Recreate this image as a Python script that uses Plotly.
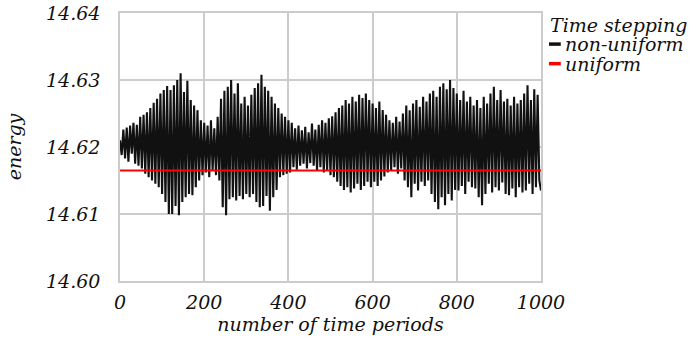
import plotly.graph_objects as go

# time periods (every 4 periods)
periods = list(range(0, 1001, 4))

# energy, non-uniform time stepping
energy_nonuniform = [
    14.6210, 14.6188, 14.6226, 14.6183, 14.6229, 14.6178, 14.6232, 14.6190, 14.6236, 14.6175,
    14.6233, 14.6172, 14.6245, 14.6168, 14.6248, 14.6160, 14.6252, 14.6155, 14.6258, 14.6150,
    14.6266, 14.6145, 14.6272, 14.6140, 14.6280, 14.6130, 14.6285, 14.6118, 14.6291, 14.6100,
    14.6285, 14.6100, 14.6292, 14.6112, 14.6300, 14.6098, 14.6310, 14.6118, 14.6282, 14.6125,
    14.6299, 14.6130, 14.6270, 14.6128, 14.6262, 14.6140, 14.6255, 14.6150, 14.6240, 14.6158,
    14.6236, 14.6162, 14.6232, 14.6155, 14.6240, 14.6165, 14.6228, 14.6158, 14.6245, 14.6150,
    14.6272, 14.6110, 14.6284, 14.6098, 14.6290, 14.6122, 14.6300, 14.6125, 14.6280, 14.6120,
    14.6295, 14.6127, 14.6265, 14.6122, 14.6275, 14.6130, 14.6262, 14.6125, 14.6278, 14.6130,
    14.6288, 14.6118, 14.6295, 14.6110, 14.6308, 14.6112, 14.6290, 14.6127, 14.6284, 14.6105,
    14.6275, 14.6125, 14.6265, 14.6136, 14.6258, 14.6155, 14.6250, 14.6158, 14.6245, 14.6160,
    14.6240, 14.6162, 14.6236, 14.6170, 14.6228, 14.6166, 14.6232, 14.6172, 14.6225, 14.6175,
    14.6230, 14.6168, 14.6222, 14.6176, 14.6235, 14.6172, 14.6226, 14.6165, 14.6233, 14.6170,
    14.6240, 14.6162, 14.6236, 14.6165, 14.6243, 14.6158, 14.6246, 14.6155, 14.6252, 14.6148,
    14.6258, 14.6142, 14.6262, 14.6136, 14.6270, 14.6140, 14.6265, 14.6132, 14.6275, 14.6138,
    14.6268, 14.6145, 14.6278, 14.6136, 14.6273, 14.6142, 14.6280, 14.6148, 14.6270, 14.6140,
    14.6265, 14.6148, 14.6258, 14.6142, 14.6268, 14.6150, 14.6255, 14.6156, 14.6248, 14.6162,
    14.6240, 14.6165, 14.6236, 14.6170, 14.6245, 14.6160, 14.6238, 14.6168, 14.6250, 14.6150,
    14.6262, 14.6140, 14.6255, 14.6125, 14.6265, 14.6145, 14.6270, 14.6135, 14.6260, 14.6148,
    14.6275, 14.6142, 14.6268, 14.6150, 14.6280, 14.6130, 14.6284, 14.6118, 14.6275, 14.6107,
    14.6290, 14.6125, 14.6295, 14.6113, 14.6286, 14.6130, 14.6300, 14.6120, 14.6288, 14.6136,
    14.6280, 14.6135, 14.6270, 14.6142, 14.6284, 14.6130, 14.6268, 14.6148, 14.6275, 14.6140,
    14.6262, 14.6138, 14.6270, 14.6125, 14.6258, 14.6113, 14.6275, 14.6130, 14.6265, 14.6145,
    14.6280, 14.6132, 14.6290, 14.6140, 14.6270, 14.6135, 14.6285, 14.6147, 14.6268, 14.6130,
    14.6272, 14.6128, 14.6262, 14.6138, 14.6275, 14.6125, 14.6265, 14.6140, 14.6270, 14.6132,
    14.6280, 14.6135, 14.6292, 14.6145, 14.6270, 14.6130, 14.6286, 14.6140, 14.6278, 14.6150,
    14.6135,
]

# energy, uniform time stepping (constant)
uniform_periods = [0, 1000]
energy_uniform = [14.6165, 14.6165]

x_ticks = [0, 200, 400, 600, 800, 1000]
y_ticks = [14.60, 14.61, 14.62, 14.63, 14.64]
y_tick_labels = ["14.60", "14.61", "14.62", "14.63", "14.64"]

series_names = ["non-uniform", "uniform"]
series_colors = ["#111111", "#ff0000"]
legend_title = "Time stepping"

FONT = "DejaVu Serif"
FS = 19
GRID = "#cccccc"

fig = go.Figure()
fig.add_trace(go.Scatter(x=periods, y=energy_nonuniform, mode="lines",
                         name=series_names[0],
                         line=dict(color=series_colors[0], width=2.1)))
fig.add_trace(go.Scatter(x=uniform_periods, y=energy_uniform, mode="lines",
                         name=series_names[1],
                         line=dict(color=series_colors[1], width=2)))

fig.update_layout(
    width=700, height=339,
    margin=dict(l=120, r=159, t=13, b=58, autoexpand=False),
    paper_bgcolor="white", plot_bgcolor="white",
    showlegend=False,
    font=dict(family=FONT, size=FS, color="#111111"),
)
fig.update_xaxes(
    range=[0, 1000], tickvals=x_ticks,
    ticktext=[f"<i>{v}</i>" for v in x_ticks],
    showgrid=True, gridcolor=GRID, gridwidth=1.5,
    showline=True, linecolor=GRID, linewidth=1.5, mirror=True,
    zeroline=False, ticks="", ticklen=0, automargin=False,
    ticklabelstandoff=3, ticklabeloverflow="allow",
    title=dict(text="<i>number of time periods</i>", standoff=3,
               font=dict(family=FONT, size=FS)),
    tickfont=dict(family=FONT, size=FS),
)
fig.update_yaxes(
    range=[14.60, 14.64], tickvals=y_ticks,
    ticktext=[f"<i>{t}</i>" for t in y_tick_labels],
    showgrid=True, gridcolor=GRID, gridwidth=1.5,
    showline=True, linecolor=GRID, linewidth=1.5, mirror=True,
    zeroline=False, ticks="", ticklen=0, automargin=False,
    ticklabelstandoff=14, ticklabeloverflow="allow",
    title=dict(text="<i>energy</i>", standoff=19,
               font=dict(family=FONT, size=FS)),
    tickfont=dict(family=FONT, size=FS),
)

# legend drawn at the right of the plot area
leg_x0, leg_x1, leg_tx = 1.019, 1.047, 1.053
leg_rows = [0.884, 0.811]
fig.add_annotation(x=1.017, y=0.957, xref="paper", yref="paper",
                   xanchor="left", yanchor="middle", showarrow=False,
                   text=f"<i>{legend_title}</i>",
                   font=dict(family=FONT, size=FS, color="#111111"))
for name, color, yy in zip(series_names, series_colors, leg_rows):
    fig.add_shape(type="line", xref="paper", yref="paper",
                  x0=leg_x0, x1=leg_x1, y0=yy, y1=yy,
                  line=dict(color=color, width=3.5))
    fig.add_annotation(x=leg_tx, y=yy, xref="paper", yref="paper",
                       xanchor="left", yanchor="middle", showarrow=False,
                       text=f"<i>{name}</i>",
                       font=dict(family=FONT, size=FS, color="#111111"))

# remove the default page margin so the figure sits at the window's corner
fig.write_html("out.html",
               config={"displayModeBar": False},
               post_script="document.body.style.margin='0';")
